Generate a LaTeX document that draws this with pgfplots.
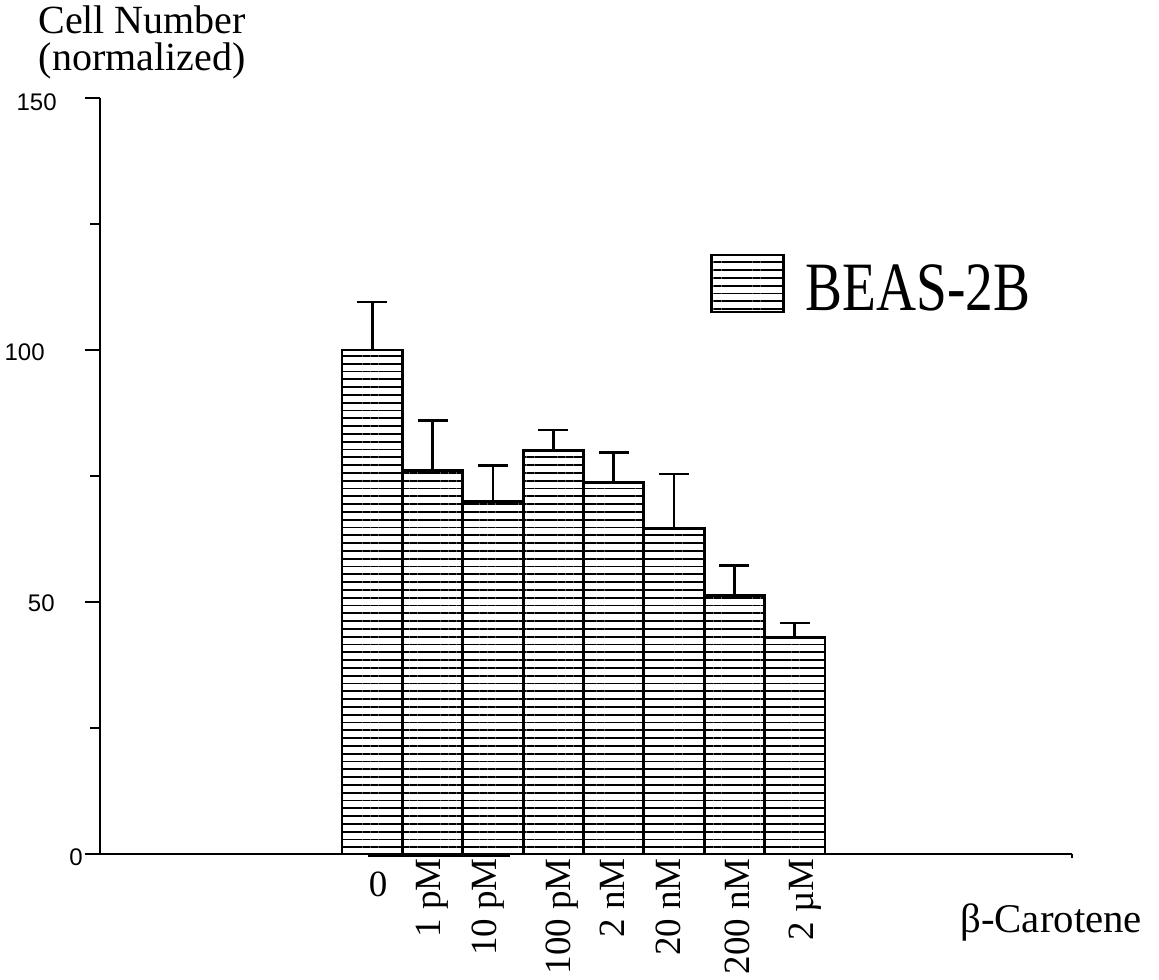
\documentclass[border=0pt]{standalone}
\usepackage{pgfplots}
\pgfplotsset{compat=1.18}
\usepackage{pgfplotstable}
\usepackage{graphicx}
\usepackage{fontspec}
\setmainfont{Liberation Serif}
\newfontfamily\sansnum{Liberation Sans}
\usetikzlibrary{patterns.meta}

% Cell number (normalized) of BEAS-2B cells vs. beta-carotene dose
\pgfplotstableread{
x   y     e
0   100.0 9.5
1   76.0  10.0
2   70.0  7.0
3   80.0  4.1
4   73.7  5.9
5   64.6  10.8
6   51.2  6.0
7   43.0  2.8
}\beasdata

\tikzset{
  hatch/.style={pattern={Lines[angle=0,distance=3.9pt,line width=0.9pt]},pattern color=black},
  ylab/.style={anchor=east, inner sep=0pt, font=\sansnum\fontsize{12}{14}\selectfont},
  doselab/.style={rotate=90, anchor=east, inner sep=0pt, font=\fontsize{18.5}{20}\selectfont},
}

\begin{document}
\begin{tikzpicture}
\begin{axis}[
  scale only axis,
  width=486pt, height=378pt,
  xmin=-4.508, xmax=11.59,
  ymin=0, ymax=150,
  axis lines*=left,
  axis line style={line width=1.4pt, black},
  xtick=\empty,
  ytick={0,50,100,150},
  minor ytick={25,75,125},
  yticklabels={},
  tick align=outside,
  major tick length=7.5pt,
  minor tick length=5pt,
  every tick/.style={line width=1.3pt, black},
  clip=false,
  legend style={at={(axis cs:5.595,113.2)}, anchor=west, draw=none, fill=none,
    inner sep=0pt, outer sep=0pt,
    nodes={inner sep=0pt, font=\fontsize{27.7}{30}\selectfont},
    /tikz/every odd column/.style={column sep=10.5pt}},
  legend image code/.code={\draw[hatch, line width=1.4pt] (0pt,-11.65pt) rectangle (36pt,16.85pt);},
]
\addplot[ybar, bar width=30.19pt, draw=black, line width=1.4pt, hatch,
  error bars/.cd, y dir=plus, y explicit,
  error bar style={line width=1.4pt, black, solid},
  error mark options={rotate=90, mark size=7.5pt, line width=1.4pt, black}]
  table[x=x, y=y, y error=e] {\beasdata};
\addlegendentry{\scalebox{1}[1.25]{BEAS-2B}}

% y tick labels
\node[ylab] at (axis cs:-5.22,149.1) {150};
\node[ylab] at (axis cs:-5.419,99.6) {100};
\node[ylab] at (axis cs:-5.254,49.8) {50};
\node[ylab] at (axis cs:-4.790,-0.69) {0};

% y axis title
\node[anchor=north, inner sep=0pt, align=center, font=\fontsize{20}{18.5}\selectfont]
  at (axis cs:-3.81,168.3) {Cell Number\\(normalized)};

% dose labels
\node[anchor=north, inner sep=0pt, font=\fontsize{18.5}{20}\selectfont] at (axis cs:0.096,-3.57) {0};
\node[doselab] at (axis cs:1.000,-0.79) {1 pM};
\node[doselab] at (axis cs:1.918,-0.79) {10 pM};
\node[doselab] at (axis cs:3.144,-0.79) {100 pM};
\node[doselab] at (axis cs:3.972,-0.79) {2 nM};
\node[doselab] at (axis cs:4.899,-0.79) {20 nM};
\node[doselab] at (axis cs:6.042,-0.79) {200 nM};
\node[doselab] at (axis cs:7.168,-0.79) {2 µM};
\node[anchor=base west, inner sep=0pt, font=\fontsize{20.4}{22}\selectfont] at (axis cs:9.736,-15.67) {β-Carotene};

% end hook of the x axis and heavier stroke under the first bars
\draw[line width=1.2pt] (axis cs:11.59,0) -- (axis cs:11.59,-0.8);
\draw[line width=1.3pt] (axis cs:-0.07,-0.35) -- (axis cs:2.282,-0.35);

% page extent
\path (axis cs:-6.165,169.44) rectangle (axis cs:13.032,-25.0);
\end{axis}
\end{tikzpicture}
\end{document}
